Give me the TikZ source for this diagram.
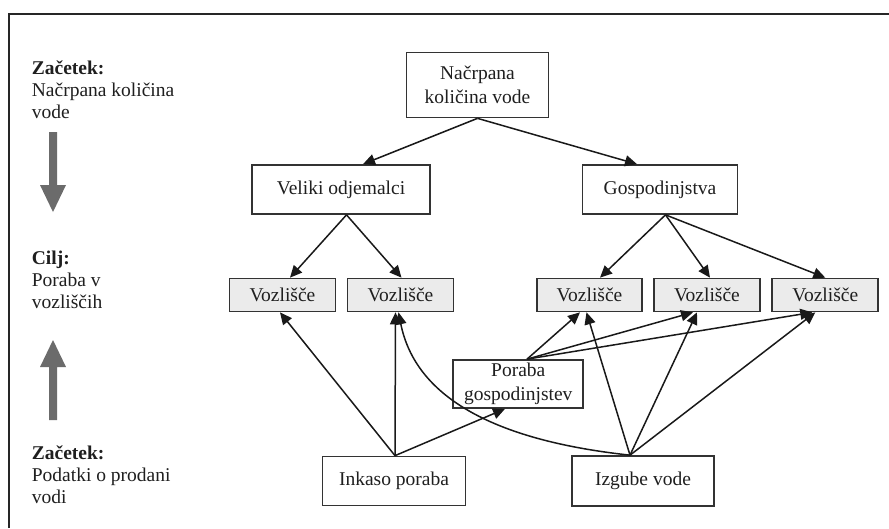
\documentclass[tikz,border=0pt]{standalone}
\usepackage{fontspec}
\setmainfont{Liberation Serif}
\usetikzlibrary{arrows.meta}

\begin{document}
\begin{tikzpicture}[x=1pt,y=-1pt,
  box/.style={draw=black!80, line width=1.7pt, fill=white, inner sep=0pt,
    align=center, text=black!88, font=\fontsize{19.5}{23.5}\selectfont},
  vbox/.style={box, fill=black!8, minimum width=106pt, minimum height=33pt},
  link/.style={draw=black!90, line width=1.5pt, -{Triangle[length=12pt,width=11pt]}},
  note/.style={anchor=north west, inner sep=0pt, align=left, text=black!88,
    font=\fontsize{19.5}{22}\selectfont},
  bigarrow/.style={fill=black!58, draw=none}]

\useasboundingbox (0,0) rectangle (889,528);

% frame edges
\draw[line width=1.6pt, black!85] (9,528) -- (9,14) -- (889,14);

% side legend
\node[note] (n1) at (31.7,61) {\textbf{Začetek:}\\Načrpana količina\\vode};
\node[note] (n2) at (31.7,251) {\textbf{Cilj:}\\Poraba v\\vozliščih};
\node[note] (n3) at (31.7,446) {\textbf{Začetek:}\\Podatki o prodani\\vodi};
\fill[bigarrow] (49,132) -- (57,132) -- (57,185) -- (66,185) -- (53,212)
  -- (40,185) -- (49,185) -- cycle;
\fill[bigarrow] (53,340) -- (66,367) -- (57,367) -- (57,420) -- (49,420)
  -- (49,367) -- (40,367) -- cycle;

% boxes
\node[box, minimum width=142pt, minimum height=65pt] (src) at (477.5,85) {Načrpana\\količina vode};
\node[box, minimum width=178pt, minimum height=49pt] (vel) at (341,189.5) {Veliki odjemalci};
\node[box, minimum width=155pt, minimum height=49pt] (gos) at (660,189.5) {Gospodinjstva};
\node[vbox] (v1) at (282.5,295) {Vozlišče};
\node[vbox] (v2) at (400.5,295) {Vozlišče};
\node[vbox, minimum width=105pt] (v3) at (589.5,295) {Vozlišče};
\node[vbox] (v4) at (707,295) {Vozlišče};
\node[vbox] (v5) at (825.3,295) {Vozlišče};
\node[box, minimum width=130pt, minimum height=48pt] (pg) at (518.3,384) {Poraba\\gospodinjstev};
\node[box, minimum width=143pt, minimum height=49pt] (ink) at (394,481) {Inkaso poraba};
\node[box, minimum width=142pt, minimum height=50pt] (izg) at (643,481) {Izgube vode};

% top-down split
\draw[link] (src.south) -- ([xshift=22pt]vel.north);
\draw[link] (src.south) -- ([xshift=-23pt]gos.north);
\draw[link] ([xshift=5.5pt]vel.south) -- ([xshift=7.5pt]v1.north);
\draw[link] ([xshift=5.5pt]vel.south) -- ([xshift=1pt]v2.north);
\draw[link] ([xshift=5.5pt]gos.south) -- ([xshift=10.5pt]v3.north);
\draw[link] ([xshift=5.5pt]gos.south) -- ([xshift=3pt]v4.north);
\draw[link] ([xshift=5.5pt]gos.south) -- (v5.north);

% bottom-up data
\draw[link] ([xshift=1pt]ink.north) -- ([xshift=-2.5pt]v1.south);
\draw[link] ([xshift=1pt]ink.north) -- ([xshift=-5pt]v2.south);
\draw[link] ([xshift=1pt]ink.north) -- ([xshift=-13.3pt]pg.south);
\draw[link] ([xshift=-13pt]izg.north) .. controls (490,440) and (415,395) .. ([xshift=-2pt]v2.south);
\draw[link] ([xshift=-13pt]izg.north) -- ([xshift=-3pt]v3.south);
\draw[link] ([xshift=-13pt]izg.north) -- ([xshift=-10pt]v4.south);
\draw[link] ([xshift=-13pt]izg.north) -- ([xshift=-10pt]v5.south);
\draw[link] ([xshift=8.7pt]pg.north) -- ([xshift=-9.5pt]v3.south);
\draw[link] ([xshift=8.7pt]pg.north) -- ([xshift=-14pt]v4.south);
\draw[link] ([xshift=8.7pt]pg.north) -- ([xshift=-13pt]v5.south);
\end{tikzpicture}
\end{document}
